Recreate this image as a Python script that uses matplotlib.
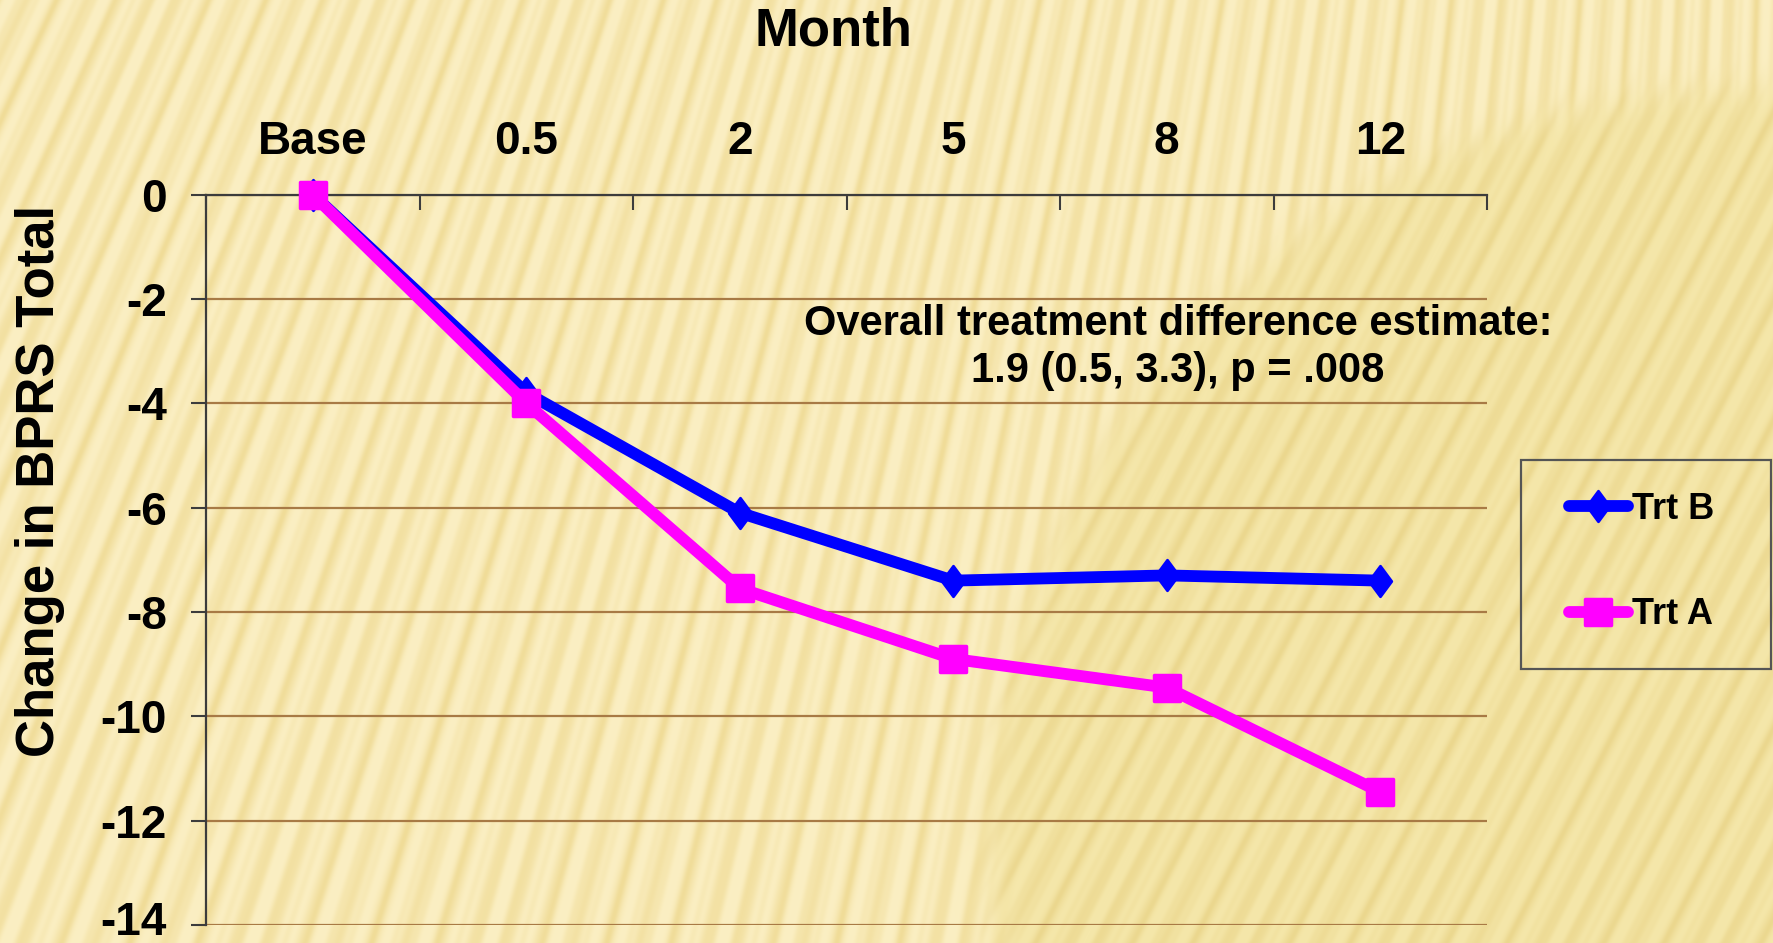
import numpy as np
import matplotlib
matplotlib.use('Agg')
import matplotlib.pyplot as plt
from matplotlib.path import Path
from matplotlib.markers import MarkerStyle
from matplotlib.patches import Rectangle
from matplotlib.transforms import ScaledTranslation

# ---------------- data ----------------
categories = ['Base', '0.5', '2', '5', '8', '12']
trt_b = [0.0, -3.8, -6.1, -7.4, -7.3, -7.4]
trt_a = [0.0, -4.0, -7.55, -8.9, -9.45, -11.45]
yticks = [0, -2, -4, -6, -8, -10, -12, -14]
series_names = ['Trt B', 'Trt A']
x_title = 'Month'
y_title = 'Change in BPRS Total'
annotation = 'Overall treatment difference estimate:\n1.9 (0.5, 3.3), p = .008'

plt.rcParams['font.family'] = ['Liberation Sans', 'DejaVu Sans']
plt.rcParams['font.weight'] = 'bold'
plt.rcParams['axes.unicode_minus'] = False

W, H, DPI = 1773, 943, 100
fig = plt.figure(figsize=(W / DPI, H / DPI), dpi=DPI)

# ---------------- decorative background ----------------
bg = fig.add_axes([0, 0, 1, 1], zorder=-10)
yy, xx = np.mgrid[0:H, 0:W].astype(float)
# fan of soft stripes outside the disc
theta = np.arctan2(xx - 1900.0, yy + 4000.0)
s1 = 0.5 + 0.5 * np.sin(theta * 1000.0)
s2 = 0.5 + 0.5 * np.sin(theta * 1570.0 + 1.3)
d_out = 0.7 * s1 ** 2 + 0.3 * s2 ** 3
light_o = np.array([251, 239, 195]) / 255.0
dark_o = np.array([240, 220, 152]) / 255.0
img_out = light_o + (dark_o - light_o) * d_out[..., None]
# slanted stripes inside the faint disc at the right
a = np.deg2rad(63)
ph = (xx * np.sin(a) + yy * np.cos(a)) * 2 * np.pi / 28.0
s3 = 0.5 + 0.5 * np.sin(ph)
s4 = 0.5 + 0.5 * np.sin(ph * 1.6 + 0.7)
d_in = 0.7 * s3 ** 2 + 0.3 * s4 ** 3
light_i = np.array([245, 231, 170]) / 255.0
dark_i = np.array([235, 215, 142]) / 255.0
img_in = light_i + (dark_i - light_i) * d_in[..., None]
r = np.hypot(xx - 1750, yy - 850)
disc = 1.0 / (1.0 + np.exp((r - 760) / 10.0))
img = img_out * (1 - disc[..., None]) + img_in * disc[..., None]
bg.imshow(np.clip(img, 0, 1), aspect='auto', extent=(0, W, H, 0), interpolation='bilinear')
bg.axis('off')

# ---------------- main axes ----------------
left, right, top, bottom = 206, 1487, 194.5, 925
ax = fig.add_axes([left / W, 1 - bottom / H, (right - left) / W, (bottom - top) / H])
ax.patch.set_alpha(0)

n = len(categories)
x = np.arange(n) + 0.5
ax.set_xlim(0, n)
ax.set_ylim(-14, 0)

diamond = Path([(0, 1), (0.74, 0), (0, -1), (-0.74, 0), (0, 1)],
               [Path.MOVETO, Path.LINETO, Path.LINETO, Path.LINETO, Path.CLOSEPOLY])
m_b = MarkerStyle(diamond, joinstyle='round')
m_a = MarkerStyle('s', joinstyle='round')

ax.plot(x, trt_b, color='#0000FF', lw=8.5, marker=m_b, ms=22, mew=2,
        solid_joinstyle='round', solid_capstyle='round', label=series_names[0],
        zorder=3, clip_on=False)
ax.plot(x, trt_a, color='#FF00FF', lw=8.5, marker=m_a, ms=19, mew=2.5,
        solid_joinstyle='round', solid_capstyle='round', label=series_names[1],
        zorder=4, clip_on=False)

# grid + spines
ax.set_yticks(yticks)
ax.yaxis.grid(True, color='#A87A45', lw=1.6)
ax.set_axisbelow(True)
for s in ['right', 'bottom']:
    ax.spines[s].set_visible(False)
for s in ['top', 'left']:
    ax.spines[s].set_color('#3C3C3C')
    ax.spines[s].set_linewidth(1.6)

ax.tick_params(axis='y', which='major', left=True, direction='out', length=11,
               width=1.5, color='#3C3C3C', labelsize=33, pad=17)

ax.set_xticks(np.arange(n + 1))
ax.set_xticklabels([])
ax.set_xticks(x, minor=True)
ax.set_xticklabels(categories, minor=True)
ax.tick_params(axis='x', which='major', top=True, bottom=False, direction='in',
               length=11, width=1.5, color='#3C3C3C', labeltop=False, labelbottom=False)
ax.tick_params(axis='x', which='minor', top=True, bottom=False, length=0,
               labeltop=True, labelbottom=False, labelsize=33, pad=22)

# keep the lowest y label inside the picture
last = ax.yaxis.get_major_ticks()[-1].label1
last.set_transform(last.get_transform() + ScaledTranslation(0, 0.07, fig.dpi_scale_trans))

# titles
fig.text(833 / W, 1 - 32 / H, x_title, ha='center', va='center', fontsize=38, fontweight='bold')
fig.text(40 / W, 1 - 481 / H, y_title, ha='center', va='center', rotation=90,
         fontsize=38, fontweight='bold')

# annotation
fig.text(1178 / W, 1 - 347.5 / H, annotation, ha='center', va='center',
         multialignment='center', fontsize=30, fontweight='bold', linespacing=1.22)

# legend (frame drawn as a rectangle to match the box)
leg = ax.legend(loc='center left', bbox_to_anchor=(1569 / W, 1 - 562 / H),
                bbox_transform=fig.transFigure, borderaxespad=0, frameon=False,
                fontsize=26, handlelength=1.63, handletextpad=0.12, borderpad=0,
                labelspacing=1.95)
fig.patches.append(Rectangle((1521 / W, 1 - 669 / H), 250 / W, 209 / H,
                             transform=fig.transFigure, fill=False,
                             edgecolor='#555555', lw=1.6))

fig.savefig('out.png', dpi=DPI)
